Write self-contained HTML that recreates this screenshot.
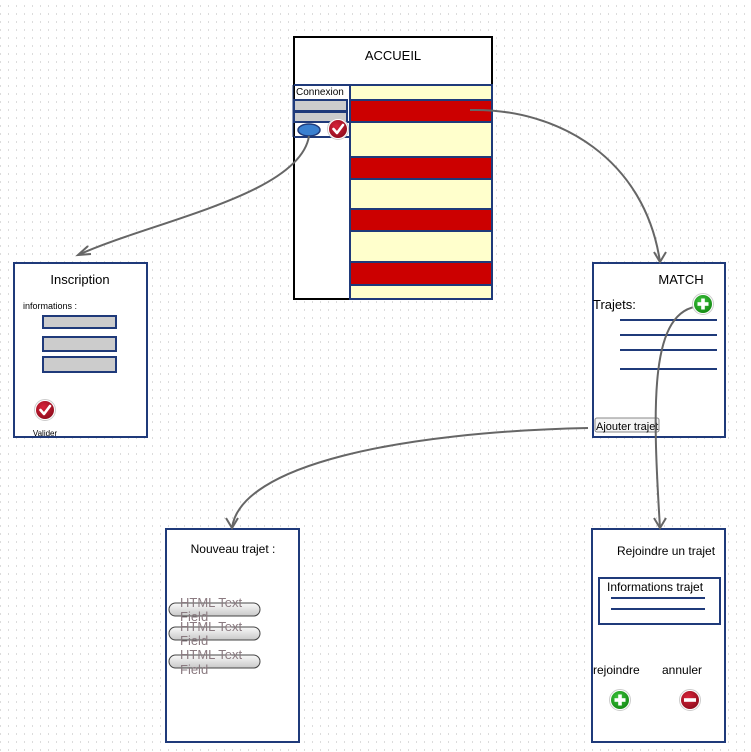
<!DOCTYPE html>
<html><head><meta charset="utf-8"><style>
html,body{margin:0;padding:0;background:#fff;}
svg{display:block;font-family:"Liberation Sans",Arial,sans-serif;}
</style></head><body>
<svg width="751" height="752" viewBox="0 0 751 752" xmlns="http://www.w3.org/2000/svg">
<defs>
<pattern id="dots" width="8" height="8" patternUnits="userSpaceOnUse">
<rect x="0" y="5" width="1" height="2" fill="#dcdcdc"/>
</pattern>
<radialGradient id="red" cx="0.4" cy="0.35" r="0.7"><stop offset="0" stop-color="#d8233a"/><stop offset="1" stop-color="#8e0c1c"/></radialGradient>
<radialGradient id="grn" cx="0.4" cy="0.35" r="0.7"><stop offset="0" stop-color="#3cc23c"/><stop offset="1" stop-color="#138a13"/></radialGradient>
<linearGradient id="pill" x1="0" y1="0" x2="0" y2="1"><stop offset="0" stop-color="#fafafa"/><stop offset="1" stop-color="#c8c8c8"/></linearGradient>
<g id="chk"><circle r="10.5" fill="#fff" stroke="#ccc" stroke-width="1"/><circle r="9" fill="url(#red)"/><path d="M-4.5,0 L-1,4 L5,-4" fill="none" stroke="#fff" stroke-width="2.6" stroke-linecap="round" stroke-linejoin="round"/></g>
<g id="plus"><circle r="10.5" fill="#fff" stroke="#ccc"/><circle r="9" fill="url(#grn)"/><rect x="-5.5" y="-1.8" width="11" height="3.6" fill="#fff"/><rect x="-1.8" y="-5.5" width="3.6" height="11" fill="#fff"/></g>
<g id="minus"><circle r="10.5" fill="#fff" stroke="#ccc"/><circle r="9" fill="url(#red)"/><rect x="-6" y="-1.8" width="12" height="3.6" fill="#fff"/></g>
</defs>
<rect width="751" height="752" fill="url(#dots)"/>

<!-- ACCUEIL -->
<rect x="294" y="37" width="198" height="262" fill="#fff" stroke="#000" stroke-width="2"/>
<text x="393" y="60" font-size="13" text-anchor="middle">ACCUEIL</text>
<g stroke="#1f3a7a" stroke-width="2">
<rect x="350" y="85" width="142" height="214" fill="#ffffcc"/>
<rect x="350" y="100" width="142" height="22" fill="#cc0000"/>
<rect x="350" y="157" width="142" height="22" fill="#cc0000"/>
<rect x="350" y="209" width="142" height="22" fill="#cc0000"/>
<rect x="350" y="262" width="142" height="23" fill="#cc0000"/>
<line x1="294" y1="85" x2="350" y2="85"/>
<rect x="294" y="100" width="53" height="11" fill="#cccccc"/>
<rect x="294" y="112" width="53" height="10" fill="#cccccc"/>
<line x1="294" y1="137" x2="350" y2="137"/>
<line x1="294" y1="122" x2="350" y2="122"/>
</g>
<line x1="293" y1="85" x2="293" y2="137" stroke="#1f3a7a" stroke-width="1"/>
<text x="296" y="95" font-size="10">Connexion</text>
<ellipse cx="309" cy="130" rx="11" ry="6" fill="#3a80d0" stroke="#1f3a7a" stroke-width="1.5"/>
<use href="#chk" x="338" y="129"/>

<!-- Inscription -->
<rect x="14" y="263" width="133" height="174" fill="#fff" stroke="#1f3a7a" stroke-width="2"/>
<text x="80" y="284" font-size="13" text-anchor="middle">Inscription</text>
<text x="23" y="309" font-size="9">informations :</text>
<g fill="#cccccc" stroke="#1f3a7a" stroke-width="2">
<rect x="43" y="316" width="73" height="12"/>
<rect x="43" y="337" width="73" height="14"/>
<rect x="43" y="357" width="73" height="15"/>
</g>
<use href="#chk" x="45" y="410"/>
<text x="45" y="436" font-size="8" text-anchor="middle">Valider</text>

<!-- MATCH -->
<rect x="593" y="263" width="132" height="174" fill="#fff" stroke="#1f3a7a" stroke-width="2"/>
<text x="681" y="284" font-size="13" text-anchor="middle">MATCH</text>
<text x="593" y="309" font-size="13">Trajets:</text>
<g stroke="#1f3a7a" stroke-width="2">
<line x1="620" y1="320" x2="717" y2="320"/>
<line x1="620" y1="335" x2="717" y2="335"/>
<line x1="620" y1="350" x2="717" y2="350"/>
<line x1="620" y1="369" x2="717" y2="369"/>
</g>
<rect x="595" y="418" width="64" height="14" rx="2" fill="#f4f4f4" stroke="#888"/>
<text x="596" y="430" font-size="11">Ajouter trajet</text>

<!-- Nouveau trajet -->
<rect x="166" y="529" width="133" height="213" fill="#fff" stroke="#1f3a7a" stroke-width="2"/>
<text x="233" y="553" font-size="12" text-anchor="middle">Nouveau trajet :</text>
<g fill="url(#pill)" stroke="#444">
<rect x="169" y="603" width="91" height="13" rx="6.5"/>
<rect x="169" y="627" width="91" height="13" rx="6.5"/>
<rect x="169" y="655" width="91" height="13" rx="6.5"/>
</g>
<g font-size="13" fill="#8a7a80">
<text x="180" y="607">HTML Text</text><text x="180" y="621">Field</text>
<text x="180" y="631">HTML Text</text><text x="180" y="645">Field</text>
<text x="180" y="659">HTML Text</text><text x="180" y="674">Field</text>
</g>

<!-- Rejoindre -->
<rect x="592" y="529" width="133" height="213" fill="#fff" stroke="#1f3a7a" stroke-width="2"/>
<text x="617" y="555" font-size="12">Rejoindre un trajet</text>
<rect x="599" y="578" width="121" height="46" fill="#fff" stroke="#1f3a7a" stroke-width="2"/>
<text x="607" y="591" font-size="12">Informations trajet</text>
<g stroke="#1f3a7a" stroke-width="2">
<line x1="611" y1="598" x2="705" y2="598"/>
<line x1="611" y1="609" x2="705" y2="609"/>
</g>
<text x="593" y="674" font-size="12">rejoindre</text>
<text x="662" y="674" font-size="12">annuler</text>
<use href="#plus" x="620" y="700"/>
<use href="#minus" x="690" y="700"/>

<!-- connectors -->
<g fill="none" stroke="#666" stroke-width="2">
<path d="M309,136 C300,195 150,222 78,255"/>
<path d="M88,246 L78,255 L91,254"/>
<path d="M470,110 C560,108 645,160 660,262"/>
<path d="M654,252 L660,262 L666,252"/>
<path d="M588,428 C400,432 240,465 232,528"/>
<path d="M226,518 L232,528 L238,518"/>
<path d="M700,306 C650,310 652,400 660,528"/>
<path d="M654,518 L660,528 L666,518"/>
</g>
<use href="#plus" x="703" y="304"/>
</svg>
</body></html>
